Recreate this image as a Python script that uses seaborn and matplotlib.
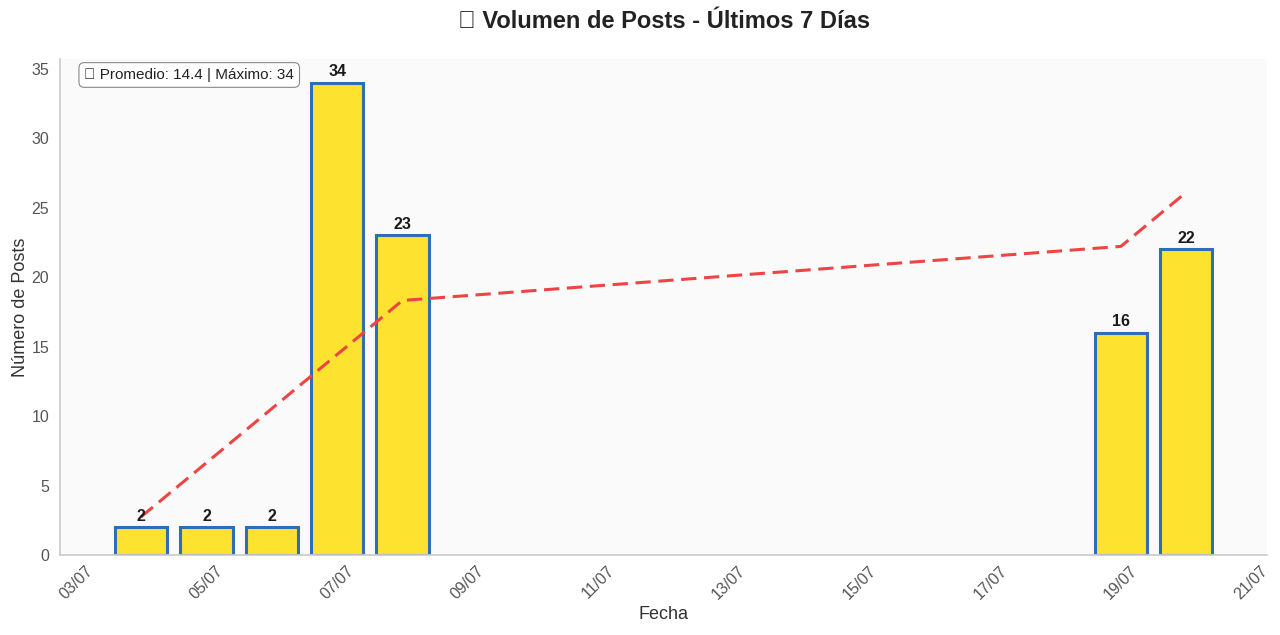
import matplotlib
matplotlib.use("Agg")
import matplotlib.pyplot as plt
import matplotlib.dates as mdates
import seaborn as sns
import numpy as np
import pandas as pd

dates = ["2025-07-04", "2025-07-05", "2025-07-06", "2025-07-07",
         "2025-07-08", "2025-07-19", "2025-07-20"]
posts = [2, 2, 2, 34, 23, 16, 22]

title = "📊 Volumen de Posts - Últimos 7 Días"
xlabel = "Fecha"
ylabel = "Número de Posts"

df = pd.DataFrame({"fecha": pd.to_datetime(dates), "posts": posts})

sns.set_theme(style="white")
plt.rcParams["font.family"] = ["Liberation Sans", "DejaVu Sans"]

fig, ax = plt.subplots(figsize=(12.8, 6.35), dpi=100)
ax.set_facecolor("#fafafa")

ax.bar(df["fecha"], df["posts"], width=0.8, color="#FDE22F",
       edgecolor="#2F6DB5", linewidth=2.2, zorder=2)

# trend line (linear fit over index)
idx = np.arange(len(df))
coef = np.polyfit(idx, df["posts"], 1)
trend = np.polyval(coef, idx)
sns.lineplot(x=df["fecha"], y=trend, ax=ax, color="#EF4444", linestyle="--",
             linewidth=2.2, zorder=3)
ax.lines[-1].set_dashes([5, 2.5])

for d, v in zip(df["fecha"], df["posts"]):
    ax.annotate(str(v), (mdates.date2num(d), v), xytext=(0, 2.5),
                textcoords="offset points", ha="center", va="bottom",
                fontsize=11.5, fontweight="bold", color="#1a1a1a")

ax.xaxis.set_major_locator(mdates.DayLocator(bymonthday=range(1, 32, 2)))
ax.xaxis.set_major_formatter(mdates.DateFormatter("%d/%m"))
plt.setp(ax.get_xticklabels(), rotation=45)
ax.tick_params(axis="both", labelsize=11.5, labelcolor="#555555", length=0)
ax.tick_params(axis="y", pad=8)
ax.tick_params(axis="x", pad=6)

ax.set_xlabel(xlabel, fontsize=13, color="#333333", labelpad=3)
ax.set_ylabel(ylabel, fontsize=13, color="#333333", labelpad=2)
ax.set_title(title, fontsize=17, fontweight="bold", color="#222222", pad=22)

for s in ["top", "right"]:
    ax.spines[s].set_visible(False)
for s in ["left", "bottom"]:
    ax.spines[s].set_color("#cccccc")

mean_v = np.mean(posts)
max_v = np.max(posts)
ax.text(0.02, 0.982, f"📈 Promedio: {mean_v:.1f} | Máximo: {max_v}",
        transform=ax.transAxes, fontsize=11, va="top", ha="left",
        color="#222222",
        bbox=dict(boxstyle="round,pad=0.35", facecolor="white",
                  edgecolor="#888888", linewidth=0.8))

fig.subplots_adjust(left=0.047, right=0.99, top=0.907, bottom=0.126)
fig.savefig("out.png", dpi=100)
